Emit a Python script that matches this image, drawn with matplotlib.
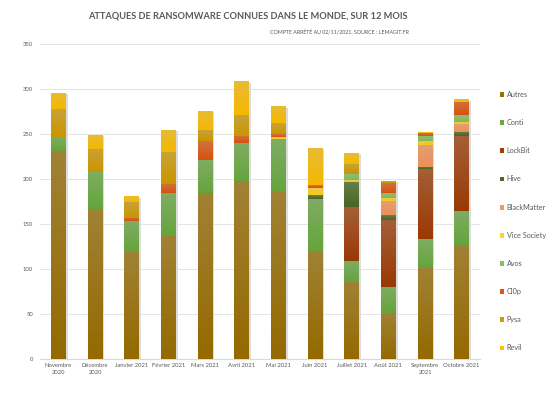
import numpy as np
import matplotlib
matplotlib.use("Agg")
import matplotlib.pyplot as plt
from matplotlib.colors import LinearSegmentedColormap, to_rgb
from matplotlib.patches import Patch

months = ["Novembre\n2020", "Décembre\n2020", "Janvier 2021", "Février 2021",
          "Mars 2021", "Avril 2021", "Mai 2021", "Juin 2021", "Juillet 2021",
          "Août 2021", "Septembre\n2021", "Octobre 2021"]

series_names = ["Autres", "Conti", "LockBit", "Hive", "BlackMatter",
                "Vice Society", "Avos", "Cl0p", "Pysa", "Revil"]

autres       = [231, 167, 119, 137, 185, 198, 186, 120, 85, 51, 101, 127]
conti        = [15, 41, 34, 47, 36, 42, 59, 58, 24, 29, 32, 38]
lockbit      = [0, 0, 0, 0, 0, 0, 0, 0, 60, 75, 78, 83]
hive         = [0, 0, 0, 0, 0, 0, 0, 4, 28, 5, 3, 5]
blackmatter  = [0, 0, 0, 0, 0, 0, 0, 0, 0, 16, 24, 8]
vice_society = [0, 0, 0, 0, 0, 0, 2, 8, 2, 3, 4, 3]
avos         = [0, 0, 0, 0, 0, 0, 0, 0, 7, 6, 6, 7]
clop         = [0, 0, 4, 11, 21, 8, 3, 3, 0, 11, 3, 15]
pysa         = [32, 26, 17, 35, 13, 23, 12, 0, 11, 2, 0, 0]
revil        = [18, 15, 7, 25, 21, 38, 19, 42, 12, 0, 2, 3]

series = [autres, conti, lockbit, hive, blackmatter, vice_society, avos, clop, pysa, revil]
colors = ["#9A6E00", "#6AAB40", "#A03C04", "#4A6A26", "#F7975A",
          "#FFD21F", "#86C060", "#E0560E", "#D29C00", "#FFC000"]

yticks = [0, 50, 100, 150, 200, 250, 300, 350]

plt.rcParams["font.family"] = ["Lato", "DejaVu Sans"]

W, H = 559, 398
fig = plt.figure(figsize=(W / 100, H / 100), dpi=100)
ax = fig.add_axes([40 / W, (H - 358.7) / H, 440 / W, (358.7 - 44.4) / H])

x = np.arange(len(months))
width = 0.40
totals = np.sum(np.array(series), axis=0)

# shadow
ax.bar(x + 0.05, totals, width, bottom=-1.5, color="#dcdcdc", zorder=1, linewidth=0)

def mix(c, t, a):
    c = np.array(to_rgb(c)); t = np.array(to_rgb(t))
    return tuple(c * (1 - a) + t * a)

bottom = np.zeros(len(months))
for vals, col in zip(series, colors):
    vals = np.array(vals, dtype=float)
    bars = ax.bar(x, vals, width, bottom=bottom, color=col, zorder=2, linewidth=0)
    cmap = LinearSegmentedColormap.from_list("g", [mix(col, "black", 0.04), mix(col, "#b0b0b0", 0.30)])
    grad = np.linspace(0, 1, 64).reshape(-1, 1)
    for p, v in zip(bars.patches, vals):
        if v <= 0:
            continue
        x0, y0 = p.get_x(), p.get_y()
        im = ax.imshow(grad, extent=[x0, x0 + p.get_width(), y0, y0 + p.get_height()],
                       origin="lower", cmap=cmap, aspect="auto", zorder=3,
                       interpolation="bilinear")
        im.set_clip_path(p)
    bottom += vals

ax.set_xlim(-0.5, len(months) - 0.5)
ax.set_ylim(0, 350)
ax.set_aspect("auto")
ax.set_yticks(yticks)
ax.set_yticklabels([str(t) for t in yticks])
ax.set_xticks(x)
ax.set_xticklabels(months)
ax.tick_params(axis="both", length=0, labelsize=4.2, labelcolor="#595959")
ax.tick_params(axis="y", pad=5)
ax.tick_params(axis="x", pad=3)
for lab in ax.get_xticklabels():
    lab.set_linespacing(1.5)
ax.grid(axis="y", color="#e4e4e4", linewidth=0.7, zorder=0)
ax.set_axisbelow(True)
for s in ["top", "right", "left"]:
    ax.spines[s].set_visible(False)
ax.spines["bottom"].set_color("#d9d9d9")
ax.spines["bottom"].set_linewidth(0.8)

fig.text(248 / W, 1 - 16 / H, "ATTAQUES DE RANSOMWARE CONNUES DANS LE MONDE, SUR 12 MOIS",
         ha="center", va="center", fontsize=6.7, color="#595959", fontweight="bold")
fig.text(409 / W, 1 - 32 / H, "COMPTE ARRÊTÉ AU 02/11/2021. SOURCE : LEMAGIT.FR",
         ha="right", va="center", fontsize=3.8, color="#595959")

handles = [Patch(facecolor=c, edgecolor="none", label=n) for n, c in zip(series_names, colors)]
fig.legend(handles=handles, loc="upper left", bbox_to_anchor=(500 / W, 1 - 91 / H),
           frameon=False, fontsize=5.2, labelcolor="#595959", handlelength=0.55,
           handleheight=0.65, handletextpad=0.4, labelspacing=2.93, borderpad=0,
           borderaxespad=0)

fig.savefig("out.png", dpi=100)
